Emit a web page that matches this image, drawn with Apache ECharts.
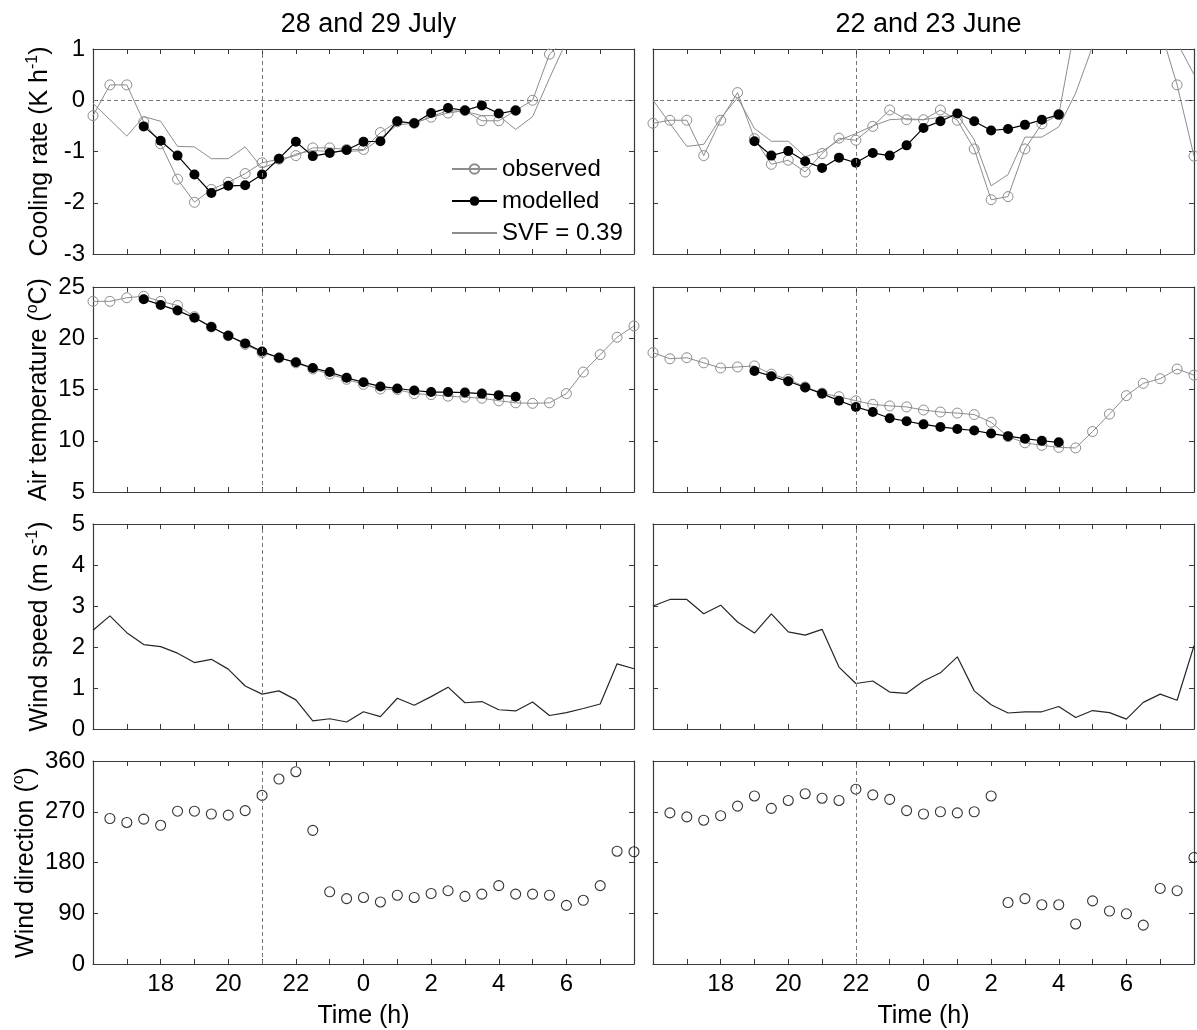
<!DOCTYPE html>
<html>
<head>
<meta charset="utf-8">
<title>Cooling rate, air temperature and wind</title>
<script src="https://cdn.jsdelivr.net/npm/echarts@6/dist/echarts.min.js"></script>
<style>
  html, body { margin: 0; padding: 0; background: #fff; }
  #chart { width: 1197px; height: 1030px; }
</style>
</head>
<body>
<div id="chart"></div>
<script>
// Half-hourly time stamps, hours after midnight of the first day (24 = 0 h next day)
const hours = [16, 16.5, 17, 17.5, 18, 18.5, 19, 19.5, 20, 20.5, 21, 21.5, 22, 22.5, 23, 23.5,
               24, 24.5, 25, 25.5, 26, 26.5, 27, 27.5, 28, 28.5, 29, 29.5, 30, 30.5, 31, 31.5, 32];

const panelTitles = ['28 and 29 July', '22 and 23 June'];
const sunsetMarks = [21, 22];

// ---- 28 and 29 July ----
const coolObsJul = [-0.30, 0.30, 0.30, -0.42, -0.85, -1.54, -1.99, -1.74, -1.60, -1.43, -1.22, -1.15, -1.08, -0.93, -0.93, -0.96,
                    -0.96, -0.63, -0.42, -0.45, -0.33, -0.25, -0.20, -0.40, -0.40, -0.20, 0.00, 0.90, 1.20, 3.00, 3.40, 2.80, 2.20];
const coolModJul = [null, null, null, -0.51, -0.79, -1.08, -1.45, -1.81, -1.67, -1.66, -1.45, -1.14, -0.81, -1.09, -1.03, -0.97,
                    -0.81, -0.80, -0.41, -0.45, -0.25, -0.15, -0.20, -0.10, -0.26, -0.20, null, null, null, null, null, null, null];
const coolSvfJul = [-0.06, -0.38, -0.70, -0.32, -0.41, -0.90, -0.91, -1.14, -1.14, -0.91, -1.32, -1.20, -1.05, -0.98, -1.00, -1.00,
                    -0.98, -0.75, -0.48, -0.45, -0.32, -0.20, -0.22, -0.30, -0.30, -0.57, -0.32, 0.43, 1.15, 2.60, 3.20, 2.90, 2.30];
const airObsJul = [23.6, 23.6, 23.95, 24.1, 23.6, 23.2, 22.1, 21.1, 20.25, 19.4, 18.6, 18.1, 17.6, 17.0, 16.5, 16.0,
                   15.5, 15.05, 15.0, 14.6, 14.5, 14.35, 14.25, 14.15, 13.9, 13.7, 13.65, 13.7, 14.6, 16.7, 18.4, 20.1, 21.2];
const airModJul = [null, null, null, 23.8, 23.25, 22.7, 22.0, 21.1, 20.25, 19.5, 18.7, 18.1, 17.65, 17.1, 16.7, 16.15,
                   15.7, 15.3, 15.1, 14.9, 14.75, 14.75, 14.7, 14.6, 14.45, 14.3, null, null, null, null, null, null, null];
const windSpdJul = [2.41, 2.76, 2.35, 2.06, 2.01, 1.85, 1.62, 1.70, 1.46, 1.05, 0.85, 0.93, 0.71, 0.20, 0.25, 0.17,
                    0.42, 0.30, 0.75, 0.58, 0.79, 1.02, 0.64, 0.67, 0.47, 0.44, 0.66, 0.33, 0.40, 0.50, 0.61, 1.59, 1.47];
const windDirJul = [null, 258, 251, 257, 246, 271, 271, 266, 264, 272, 299, 328, 341, 237, 128, 116,
                    118, 110, 122, 118, 125, 130, 120, 124, 139, 124, 124, 122, 104, 113, 139, 200, 199];

// ---- 22 and 23 June ----
const coolObsJun = [-0.45, -0.39, -0.39, -1.08, -0.39, 0.15, -0.75, -1.25, -1.17, -1.40, -1.04, -0.74, -0.78, -0.51, -0.19, -0.38,
                    -0.38, -0.19, -0.39, -0.95, -1.94, -1.88, -0.95, -0.46, -0.28, 1.50, 3.30, 3.50, 3.00, 1.65, 1.40, 0.30, -1.09];
const coolModJun = [null, null, null, null, null, null, -0.80, -1.08, -0.99, -1.19, -1.32, -1.12, -1.22, -1.03, -1.08, -0.88,
                    -0.54, -0.41, -0.26, -0.41, -0.59, -0.56, -0.48, -0.38, -0.28, null, null, null, null, null, null, null, null];
const coolSvfJun = [0.00, -0.45, -0.90, -0.86, -0.35, 0.05, -0.55, -0.80, -0.80, -1.10, -1.00, -0.78, -0.65, -0.50, -0.38, -0.36,
                    -0.38, -0.33, -0.28, -0.77, -1.67, -1.45, -0.72, -0.72, -0.52, 0.14, 1.05, 2.50, 3.00, 2.40, 1.80, 1.13, 0.50];
const airObsJun = [18.6, 18.0, 18.1, 17.6, 17.1, 17.2, 17.3, 16.5, 16.0, 15.25, 14.65, 14.3, 13.9, 13.55, 13.4, 13.3,
                   13.0, 12.8, 12.7, 12.55, 11.8, 10.4, 9.8, 9.55, 9.35, 9.3, 10.9, 12.6, 14.4, 15.6, 16.05, 17.0, 16.4];
const airModJun = [null, null, null, null, null, null, 16.8, 16.3, 15.8, 15.2, 14.6, 13.9, 13.3, 12.8, 12.2, 11.9,
                   11.6, 11.35, 11.15, 11.0, 10.7, 10.45, 10.2, 10.0, 9.85, null, null, null, null, null, null, null, null];
const windSpdJun = [3.00, 3.16, 3.16, 2.81, 3.02, 2.61, 2.34, 2.81, 2.37, 2.29, 2.43, 1.51, 1.11, 1.17, 0.90, 0.87,
                    1.17, 1.37, 1.76, 0.93, 0.59, 0.39, 0.42, 0.42, 0.55, 0.28, 0.45, 0.40, 0.24, 0.65, 0.85, 0.70, 2.03];
const windDirJun = [null, 268, 261, 255, 263, 280, 298, 276, 290, 302, 294, 290, 310, 300, 292, 272,
                    266, 270, 268, 270, 298, 109, 116, 105, 105, 71, 112, 94, 89, 69, 134, 130, 189];

const FONT = "'Liberation Sans', Arial, Helvetica, sans-serif";
const GRAY = '#8c8c8c';
const FRAME = '#3a3a3a';

// layout of the 4 x 2 panel matrix
const colLeft = [93, 653];
const rowTop = [49, 287, 524, 761];
const panelW = 541, panelH = 205;

const rowAxes = [
  { min: -3, max: 1, interval: 1, name: 'Cooling rate (K h{sup|-1})' },
  { min: 5, max: 25, interval: 5, name: 'Air temperature ({sup|o}C)' },
  { min: 0, max: 5, interval: 1, name: 'Wind speed (m s{sup|-1})' },
  { min: 0, max: 360, interval: 90, name: 'Wind direction ({sup|o})' }
];

function pairs(values) {
  const out = [];
  values.forEach((v, i) => { if (v !== null) out.push([hours[i], v]); });
  return out;
}

function hourLabel(v) {
  return (v >= 18 && v <= 30 && v % 2 === 0) ? String(v % 24) : '';
}

const grids = [], xAxes = [], yAxes = [], series = [];

for (let r = 0; r < 4; r++) {
  for (let c = 0; c < 2; c++) {
    const g = r * 2 + c;
    grids.push({ left: colLeft[c], top: rowTop[r], width: panelW, height: panelH, containLabel: false });
    const tick = { show: true, inside: true, length: 5, lineStyle: { color: FRAME, width: 1 } };
    const line = { show: true, onZero: false, lineStyle: { color: FRAME, width: 1.2 } };
    // bottom and top x axes (top one only draws the frame and ticks)
    xAxes.push({
      gridIndex: g, type: 'value', position: 'bottom', min: 16, max: 32, interval: 1,
      axisLine: line, axisTick: tick, splitLine: { show: false },
      axisLabel: { show: r === 3, formatter: hourLabel, fontSize: 24, fontFamily: FONT, color: '#000', margin: 8 },
      name: r === 3 ? 'Time (h)' : '', nameLocation: 'middle', nameGap: 40,
      nameTextStyle: { fontSize: 25, fontFamily: FONT, color: '#000' }
    });
    xAxes.push({
      gridIndex: g, type: 'value', position: 'top', min: 16, max: 32, interval: 1,
      axisLine: line, axisTick: tick, splitLine: { show: false }, axisLabel: { show: false }
    });
    const ya = rowAxes[r];
    yAxes.push({
      gridIndex: g, type: 'value', position: 'left', min: ya.min, max: ya.max, interval: ya.interval,
      axisLine: line, axisTick: tick, splitLine: { show: false },
      axisLabel: { show: c === 0, fontSize: 24, fontFamily: FONT, color: '#000', margin: 8 },
      name: c === 0 ? ya.name : '', nameLocation: 'middle', nameRotate: 90, nameGap: 38,
      nameTextStyle: {
        fontSize: 25, fontFamily: FONT, color: '#000', lineHeight: 30,
        rich: { sup: { fontSize: 16, fontFamily: FONT, color: '#000', lineHeight: 16, verticalAlign: 'top' } }
      }
    });
    yAxes.push({
      gridIndex: g, type: 'value', position: 'right', min: ya.min, max: ya.max, interval: ya.interval,
      axisLine: line, axisTick: tick, splitLine: { show: false }, axisLabel: { show: false }
    });
  }
}

function refLines(c, withZero) {
  const data = [{ xAxis: sunsetMarks[c] }];
  if (withZero) data.push({ yAxis: 0 });
  return {
    silent: true, symbol: 'none', animation: false,
    label: { show: false },
    lineStyle: { color: '#777', type: [4, 3], width: 1 },
    data: data
  };
}

function observedSeries(g, values, mark) {
  return {
    name: 'observed', type: 'line', xAxisIndex: 2 * g, yAxisIndex: 2 * g,
    data: pairs(values), symbol: 'circle', symbolSize: 10, showAllSymbol: true,
    lineStyle: { color: GRAY, width: 1 },
    itemStyle: { color: 'rgba(255,255,255,0)', borderColor: GRAY, borderWidth: 1 },
    z: 3, markLine: mark
  };
}
function modelledSeries(g, values) {
  return {
    name: 'modelled', type: 'line', xAxisIndex: 2 * g, yAxisIndex: 2 * g,
    data: pairs(values), symbol: 'circle', symbolSize: 10, showAllSymbol: true,
    lineStyle: { color: '#000', width: 1.2 },
    itemStyle: { color: '#000', borderColor: '#000', borderWidth: 0 },
    z: 4
  };
}
function svfSeries(g, values) {
  // plain line; the transparent item colour keeps its legend key a bare line
  return {
    name: 'SVF = 0.39', type: 'line', xAxisIndex: 2 * g, yAxisIndex: 2 * g,
    data: pairs(values), symbol: 'none',
    lineStyle: { color: GRAY, width: 1 },
    itemStyle: { color: 'rgba(255,255,255,0)', borderColor: 'rgba(255,255,255,0)', borderWidth: 0 },
    z: 2
  };
}

const cool = [[coolObsJul, coolModJul, coolSvfJul], [coolObsJun, coolModJun, coolSvfJun]];
const air = [[airObsJul, airModJul], [airObsJun, airModJun]];
const speed = [windSpdJul, windSpdJun];
const dir = [windDirJul, windDirJun];

for (let c = 0; c < 2; c++) {
  // row 1: cooling rate
  series.push(svfSeries(c, cool[c][2]));
  series.push(observedSeries(c, cool[c][0], refLines(c, true)));
  series.push(modelledSeries(c, cool[c][1]));
  // row 2: air temperature
  series.push(observedSeries(2 + c, air[c][0], refLines(c, false)));
  series.push(modelledSeries(2 + c, air[c][1]));
  // row 3: wind speed
  series.push({
    name: 'wind speed', type: 'line', xAxisIndex: 2 * (4 + c), yAxisIndex: 2 * (4 + c),
    data: pairs(speed[c]), symbol: 'none',
    lineStyle: { color: '#262626', width: 1.2 }, markLine: refLines(c, false)
  });
  // row 4: wind direction
  series.push({
    name: 'wind direction', type: 'scatter', xAxisIndex: 2 * (6 + c), yAxisIndex: 2 * (6 + c),
    data: pairs(dir[c]), symbol: 'circle', symbolSize: 10,
    itemStyle: { color: 'rgba(255,255,255,0)', borderColor: '#000', borderWidth: 1.1 },
    markLine: refLines(c, false)
  });
}

const option = {
  animation: false,
  backgroundColor: '#fff',
  title: panelTitles.map((t, c) => ({
    text: t, left: colLeft[c] + panelW / 2, top: 6, textAlign: 'center',
    textStyle: { fontSize: 27, fontWeight: 'normal', fontFamily: FONT, color: '#000' }
  })),
  legend: {
    data: ['observed', 'modelled', 'SVF = 0.39'],
    orient: 'vertical', left: 446, top: 152,
    itemWidth: 45, itemHeight: 12, itemGap: 8,
    selectedMode: false,
    textStyle: { fontSize: 24, fontFamily: FONT, color: '#000' }
  },
  grid: grids,
  xAxis: xAxes,
  yAxis: yAxes,
  series: series
};

const chart = echarts.init(document.getElementById('chart'), null, { renderer: 'canvas' });
chart.setOption(option);
</script>
</body>
</html>
